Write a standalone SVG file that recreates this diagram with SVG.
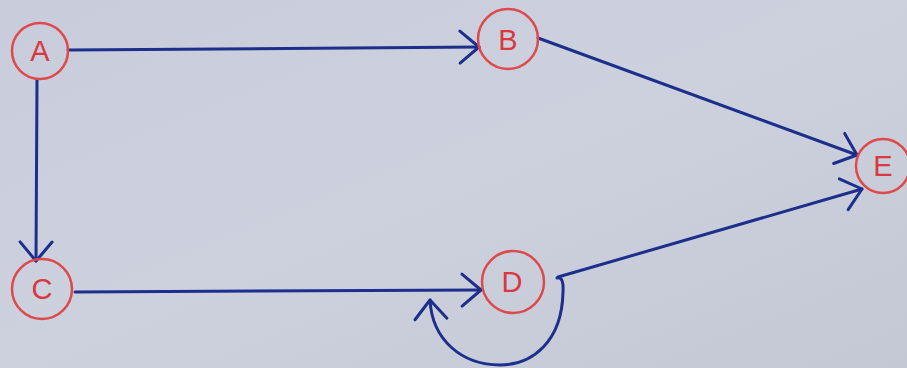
<svg xmlns="http://www.w3.org/2000/svg" width="907" height="368" viewBox="0 0 907 368">
<defs>
<linearGradient id="paper" x1="0" y1="0" x2="1" y2="1">
<stop offset="0" stop-color="#c9cddb"/>
<stop offset="0.5" stop-color="#cdd1de"/>
<stop offset="1" stop-color="#c4c8d4"/>
</linearGradient>
<marker id="arr" markerUnits="userSpaceOnUse" markerWidth="40" markerHeight="40" viewBox="-30 -20 40 40" refX="0" refY="0" orient="auto">
<path d="M -19 -16 L 0 0 L -19 16" fill="none" stroke="#1c2f8c" stroke-width="3" stroke-linecap="round" stroke-linejoin="round"/>
</marker>
<style>
.node circle{fill:none;stroke:#de4a4c;stroke-width:2.5}
.node text{font-family:"Liberation Sans",Arial,sans-serif;font-size:29px;fill:#d8383e;text-anchor:middle;dominant-baseline:central}
.edge{fill:none;stroke:#1c2f8c;stroke-width:3;stroke-linecap:round;marker-end:url(#arr)}
</style>
</defs>
<rect width="907" height="368" fill="url(#paper)"/>
<g id="connectors">
<path class="edge" d="M 68 50 L 479 47"/>
<path class="edge" d="M 37 80 L 36 261"/>
<path class="edge" d="M 538 38 L 857 155"/>
<path class="edge" d="M 75 292 L 481 290"/>
<path class="edge" d="M 558 277 L 862 189"/>
<path class="edge" d="M 557 278 Q 564 276 563 292 C 562 342 532 365 500 365 C 462 365 432 340 430 300"/>
</g>
<g id="A" class="node"><circle cx="40" cy="51" r="28"/><text x="40" y="51">A</text></g>
<g id="B" class="node"><circle cx="508" cy="39" r="30"/><text x="508" y="40">B</text></g>
<g id="C" class="node"><circle cx="42" cy="289" r="30"/><text x="42" y="289">C</text></g>
<g id="D" class="node"><circle cx="513" cy="282" r="31"/><text x="512" y="282">D</text></g>
<g id="E" class="node"><circle cx="883" cy="166" r="27"/><text x="883" y="166">E</text></g>
</svg>
